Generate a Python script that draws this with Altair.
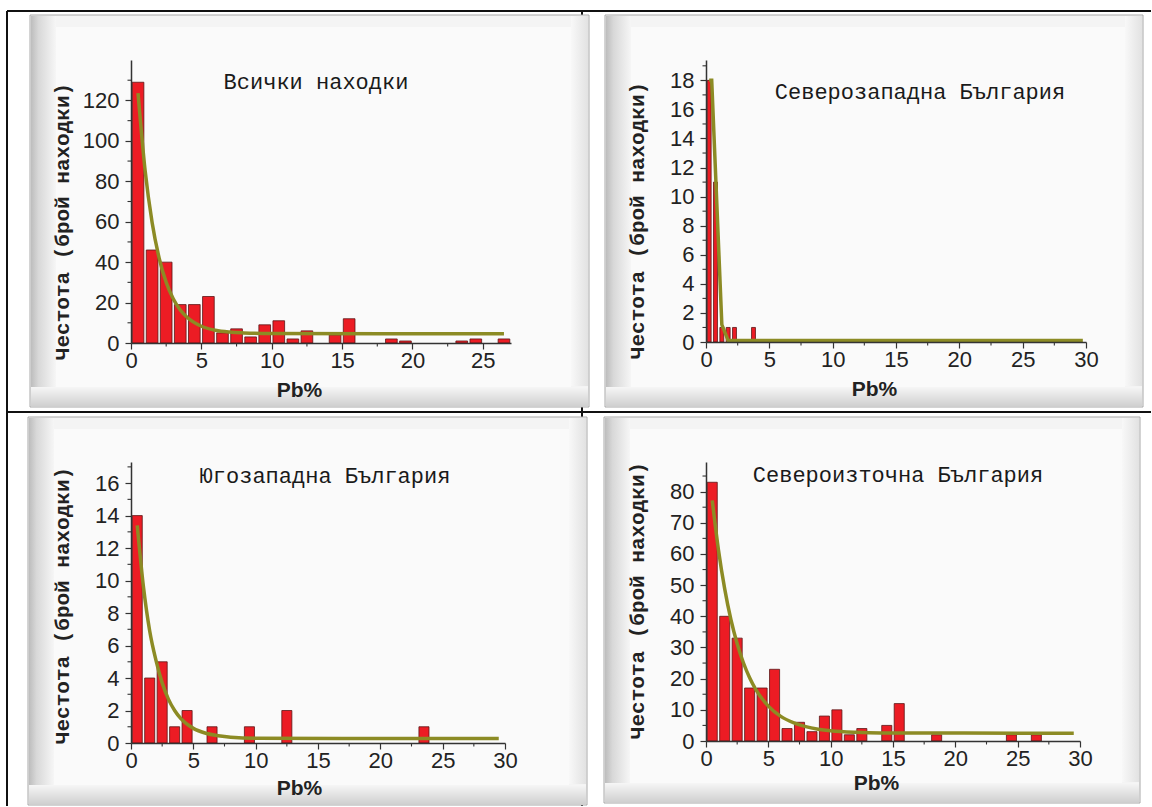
import altair as alt
import pandas as pd

# ---------------- data ----------------
# Panel 1: Всички находки (bin width 1)
p1_bin_start = [0, 1, 2, 3, 4, 5, 6, 7, 8, 9, 10, 11, 12, 14, 15, 18, 19, 23, 24, 26]
p1_count = [129, 46, 40, 19, 19, 23, 5, 7, 3, 9, 11, 2, 6, 4, 12, 2, 1, 1, 2, 2]
p1_fit_x = [0.5, 1, 1.5, 2, 2.5, 3, 3.5, 4, 5, 6, 7, 8, 10, 26.5]
p1_fit_y = [123.6, 85.5, 59.6, 42, 30, 21.9, 16.3, 12.6, 8.3, 6.3, 5.4, 5.0, 4.7, 4.6]

# Panel 2: Северозападна България (bin width 0.5)
p2_bin_start = [0, 0.5, 1.0, 1.5, 2.0, 3.5]
p2_count = [18, 11, 1, 1, 1, 1]
p2_fit_x = [0.25, 0.45, 1.25, 1.75, 29.75]
p2_fit_y = [18, 18, 1.2, 0.1, 0.1]

# Panel 3: Югозападна България (bin width 1)
p3_bin_start = [0, 1, 2, 3, 4, 6, 9, 12, 23]
p3_count = [14, 4, 5, 1, 2, 1, 1, 2, 1]
p3_fit_x = [0.5, 1, 1.5, 2, 2.5, 3, 3.5, 4, 5, 6, 7, 8, 10, 29.5]
p3_fit_y = [13.4, 9.6, 6.9, 5.1, 3.7, 2.7, 2.0, 1.5, 0.9, 0.6, 0.45, 0.36, 0.3, 0.27]

# Panel 4: Североизточна България (bin width 1)
p4_bin_start = [0, 1, 2, 3, 4, 5, 6, 7, 8, 9, 10, 11, 12, 14, 15, 18, 24, 26]
p4_count = [83, 40, 33, 17, 17, 23, 4, 6, 3, 8, 10, 2, 4, 5, 12, 2, 2, 2]
p4_fit_x = [0.5, 1, 1.5, 2, 2.5, 3, 3.5, 4, 5, 6, 7, 8, 9, 10, 12, 14, 29.5]
p4_fit_y = [77.2, 61.3, 48.8, 38.9, 31.2, 25.1, 20.3, 16.5, 11.2, 7.9, 5.9, 4.6, 3.8, 3.3, 2.8, 2.6, 2.5]

titles = ["Всички находки", "Северозападна България",
          "Югозападна България", "Североизточна България"]
y_title = "Честота (брой находки)"
x_title = "Pb%"

x_major_27 = [0, 5, 10, 15, 20, 25]
x_major_30 = [0, 5, 10, 15, 20, 25, 30]
x_minor_27 = [2.5, 7.5, 12.5, 17.5, 22.5]
x_minor_30 = [2.5, 7.5, 12.5, 17.5, 22.5, 27.5]
p1_y_major = [0, 20, 40, 60, 80, 100, 120]
p1_y_minor = [10, 30, 50, 70, 90, 110, 130]
p2_y_major = [0, 2, 4, 6, 8, 10, 12, 14, 16, 18]
p2_y_minor = [1, 3, 5, 7, 9, 11, 13, 15, 17, 19]
p3_y_major = [0, 2, 4, 6, 8, 10, 12, 14, 16]
p3_y_minor = [1, 3, 5, 7, 9, 11, 13, 15, 17]
p4_y_major = [0, 10, 20, 30, 40, 50, 60, 70, 80]
p4_y_minor = [5, 15, 25, 35, 45, 55, 65, 75, 85]

MONO = "Liberation Mono"
SANS = "Liberation Sans"
BAR = "#ec1c24"
FIT = "#8c8b24"
AX = "#333333"

one = pd.DataFrame({"k": [0]})


def lin(stops, x1=0, y1=0, x2=1, y2=0):
    return alt.LinearGradient(
        gradient="linear", x1=x1, y1=y1, x2=x2, y2=y2,
        stops=[alt.GradientStop(offset=o, color=c) for o, c in stops])


def box(L, R, T, B, **kw):
    return alt.Chart(one).mark_rect(**kw).encode(
        x=alt.value(L), x2=alt.value(R), y=alt.value(T), y2=alt.value(B))


def frame(L, R, T, B):
    return [
        box(L, R, T, B, fill="#f4f4f4", stroke="#a8a8a8", strokeWidth=1),
        box(L + 1, L + 26, T + 1, B - 1, fill=lin([(0, "#bdbdbd"), (0.3, "#d8d8d8"), (1, "#f6f6f6")])),
        box(L + 1, R - 1, B - 20, B - 1, fill=lin([(0, "#f6f6f6"), (1, "#d0d0d0")], x2=0, y2=1)),
        box(R - 18, R - 1, T + 1, B - 21, fill=lin([(0, "#f8f8f8"), (1, "#e2e2e2")])),
        box(L + 26, R - 18, T + 12, B - 20, fill="#fafafa"),
    ]


def panel(title, bin_w, starts, counts, fit_x, fit_y, x_max, y_max,
          x_major, x_minor, y_major, y_minor, w, h, fr, tpos,
          ytitle_y, xtitle_x, xtitle_y, interp="monotone", extra=()):
    xs = alt.Scale(domain=[0, x_max], nice=False, zero=False)
    ys = alt.Scale(domain=[0, y_max], nice=False)
    bars = pd.DataFrame({"start": starts, "count": counts})
    fit = pd.DataFrame({"x": fit_x, "y": fit_y})

    xaxis = alt.Axis(values=x_major, title=x_title, titleFont=SANS, titleFontSize=21,
                     titleFontWeight="bold", titleColor="#222", titleX=xtitle_x,
                     titleY=xtitle_y, titleBaseline="middle", titleAlign="center",
                     labelFont=SANS, labelFontSize=22, labelColor="#222",
                     labelFlush=False, labelPadding=1, tickSize=6, tickColor=AX,
                     tickWidth=1.2, domainColor=AX, domainWidth=1.5, grid=False, zindex=1)
    yaxis = alt.Axis(values=y_major, title=y_title, titleFont=MONO, titleFontSize=21,
                     titleFontWeight="bold", titleColor="#222", titleAngle=270,
                     titleX=-69, titleY=ytitle_y, titleAlign="center",
                     titleBaseline="middle", labelFont=SANS, labelFontSize=22,
                     labelColor="#222", labelPadding=6, tickSize=6, tickColor=AX,
                     tickWidth=1.2, domainColor=AX, domainWidth=1.5, grid=False, zindex=1)

    bar_layer = alt.Chart(bars).transform_calculate(
        end=f"datum.start + {bin_w}"
    ).mark_rect(fill=BAR, stroke="#5a1616", strokeWidth=0.8,
                xOffset=1.2, x2Offset=-1.2).encode(
        x=alt.X("start:Q", scale=xs, axis=xaxis),
        x2="end:Q",
        y=alt.Y("count:Q", scale=ys, axis=yaxis),
        y2=alt.datum(0),
    )
    fit_layer = alt.Chart(fit).mark_line(color=FIT, strokeWidth=3.5, interpolate=interp).encode(
        x=alt.X("x:Q", scale=xs, axis=xaxis),
        y=alt.Y("y:Q", scale=ys, axis=yaxis),
    )
    ymin = alt.Chart(pd.DataFrame({"v": y_minor})).mark_rule(color=AX, strokeWidth=1.1).encode(
        y=alt.Y("v:Q", scale=ys, axis=yaxis), x=alt.value(-3.5), x2=alt.value(0))
    xmin = alt.Chart(pd.DataFrame({"v": x_minor})).mark_rule(color=AX, strokeWidth=1.1).encode(
        x=alt.X("v:Q", scale=xs, axis=xaxis), y=alt.value(h), y2=alt.value(h + 3.5))
    ttl = alt.Chart(one).mark_text(font=MONO, fontSize=22, color="#1a1a1a",
                                   align="center", baseline="middle").encode(
        x=alt.value(tpos[0]), y=alt.value(tpos[1]), text=alt.value(title))
    layers = list(extra) + frame(*fr) + [ttl, bar_layer, fit_layer, ymin, xmin]
    return alt.layer(*layers).properties(width=w, height=h)


# table lines (drawn relative to the first panel's plot area)
def hline(x1, x2, y):
    return alt.Chart(one).mark_rule(color="#111", strokeWidth=2).encode(
        x=alt.value(x1), x2=alt.value(x2), y=alt.value(y))


def vline(x, y1, y2):
    return alt.Chart(one).mark_rule(color="#111", strokeWidth=2).encode(
        x=alt.value(x), y=alt.value(y1), y2=alt.value(y2))


table = [hline(-124, 1020, -49), hline(-124, 1020, 352),
         vline(-124, -49, 746), vline(451, -49, 746)]

p1 = panel(titles[0], 1, p1_bin_start, p1_count, p1_fit_x, p1_fit_y, 27, 140,
           x_major_27, x_minor_27, p1_y_major, p1_y_minor, 380, 283,
           (-101, 458, -45, 347), (185, 22), 161, 168, 47, extra=table)
p2 = panel(titles[1], 0.5, p2_bin_start, p2_count, p2_fit_x, p2_fit_y, 30, 19.4,
           x_major_30, x_minor_30, p2_y_major, p2_y_minor, 380, 282,
           (-101, 437, -45, 347), (214, 32), 160, 168, 47, interp="linear")
p3 = panel(titles[2], 1, p3_bin_start, p3_count, p3_fit_x, p3_fit_y, 30, 17.3,
           x_major_30, x_minor_30, p3_y_major, p3_y_minor, 374, 281,
           (-103, 456, -45, 343), (194, 14), 143, 168, 45)
p4 = panel(titles[3], 1, p4_bin_start, p4_count, p4_fit_x, p4_fit_y, 30, 89.5,
           x_major_30, x_minor_30, p4_y_major, p4_y_minor, 374, 279,
           (-102, 434, -45, 341), (192, 13), 138, 170, 42)

chart = alt.concat(
    p1, p2, p3, p4, columns=2, spacing={"row": 119, "column": 195}, bounds="flush"
).properties(
    padding={"left": 6, "top": 10, "right": 0, "bottom": 0},
    background="white",
).configure_view(stroke=None)

chart.save("out.html", embed_options={"renderer": "svg", "actions": False})
